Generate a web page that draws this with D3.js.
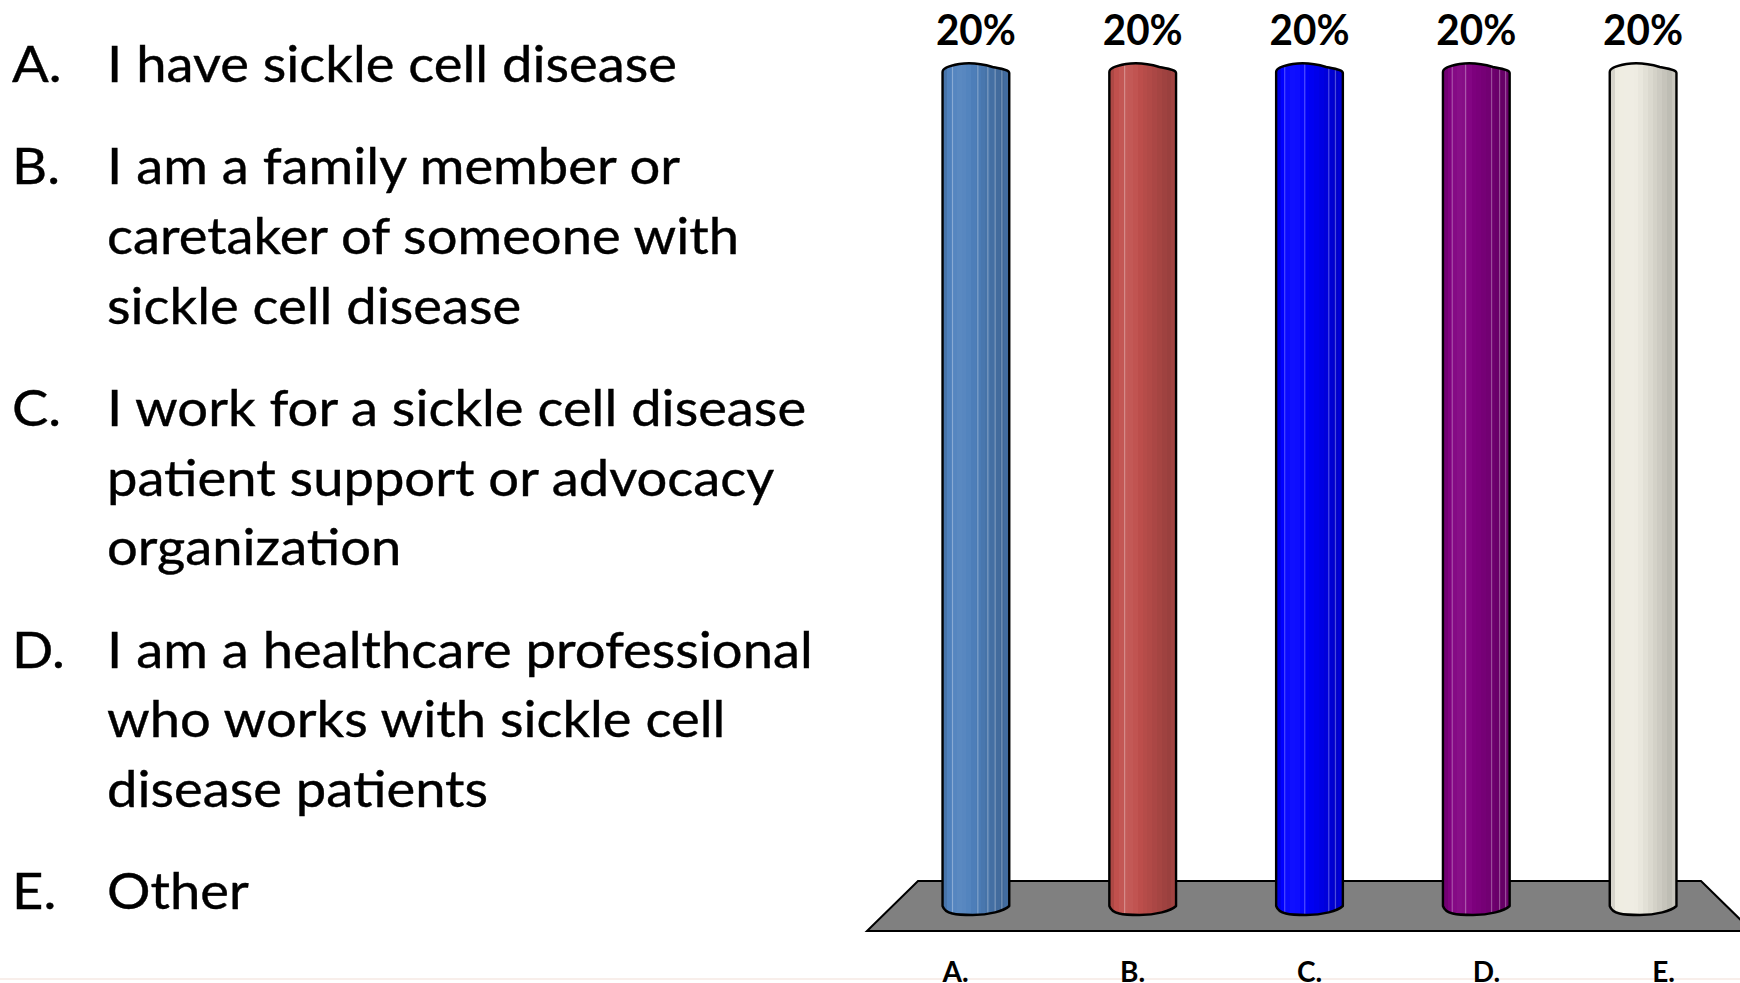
<!DOCTYPE html>
<html>
<head>
<meta charset="utf-8">
<script src="https://cdn.jsdelivr.net/npm/d3@7"></script>
<style>
  html, body { margin: 0; padding: 0; background: #ffffff; overflow: hidden; }
  svg { display: block; }
</style>
</head>
<body>
<svg id="chart" width="1740" height="983"></svg>
<script>
// Poll answers and results
const categories = ["A.", "B.", "C.", "D.", "E."];
const answerLines = [
  ["I have sickle cell disease"],
  ["I am a family member or", "caretaker of someone with", "sickle cell disease"],
  ["I work for a sickle cell disease", "patient support or advocacy", "organization"],
  ["I am a healthcare professional", "who works with sickle cell", "disease patients"],
  ["Other"]
];
const percentages = [20, 20, 20, 20, 20];
const barColors = ["#4F81BD", "#C0504D", "#0000FF", "#800080", "#EEECE1"];

// Thin light seams on the faceted columns (fraction of column width)
const seams = [
  [0.14, 0.52, 0.67, 0.78, 0.88],
  [0.22],
  [0.12, 0.42, 0.78, 0.88],
  [0.13, 0.33, 0.72, 0.84, 0.93],
  []
];

const svg = d3.select("#chart");
const W = 1740, H = 983;
const FONT = "Lato, 'Open Sans', 'DejaVu Sans', sans-serif";

// faint slide edge near the bottom
svg.append("rect").attr("x", 0).attr("y", 978).attr("width", W).attr("height", 2)
  .attr("fill", "#f8eeea");

// ---------- answer list on the left ----------
const listG = svg.append("g");
const lineStep = 69.7, paraGap = 32.6;
let baseline = 82;
const probe = listG.append("text").attr("font-family", FONT).attr("font-size", 51)
  .text(answerLines[0][0]);
const squeeze = 570 / probe.node().getComputedTextLength();
probe.remove();

answerLines.forEach((lines, i) => {
  const letter = listG.append("text")
    .attr("x", 12).attr("y", baseline)
    .attr("font-family", FONT).attr("font-size", 51).attr("fill", "#000")
    .text(categories[i]);
  const lw = letter.node().getComputedTextLength();
  letter.attr("textLength", lw * squeeze).attr("lengthAdjust", "spacingAndGlyphs");
  lines.forEach((ln, j) => {
    const t = listG.append("text")
      .attr("x", 107).attr("y", baseline + j * lineStep)
      .attr("font-family", FONT).attr("font-size", 51).attr("fill", "#000")
      .attr("stroke", "#000").attr("stroke-width", 0.4)
      .text(ln);
    const w = t.node().getComputedTextLength();
    t.attr("textLength", w * squeeze).attr("lengthAdjust", "spacingAndGlyphs");
  });
  letter.attr("stroke", "#000").attr("stroke-width", 0.4);
  baseline += lines.length * lineStep + paraGap;
});

// ---------- 3D column chart ----------
const floorBackY = 881, floorFrontY = 931;
const floorBack = [918, 1701], floorFront = [867, 1752];
const midRange = [(floorBack[0] + floorFront[0]) / 2, (floorBack[1] + floorFront[1]) / 2];

const xBars = d3.scaleBand().domain(categories).range(midRange).paddingInner(0.6).paddingOuter(0.3);
const xLabels = d3.scaleBand().domain(categories).range(floorFront);
const y = d3.scaleLinear().domain([0, d3.max(percentages)]).range([906, 68]);

// floor
svg.append("path")
  .attr("d", `M${floorBack[0]},${floorBackY} L${floorBack[1]},${floorBackY} L${floorFront[1]},${floorFrontY} L${floorFront[0]},${floorFrontY} Z`)
  .attr("fill", "#808080").attr("stroke", "#000").attr("stroke-width", 2)
  .attr("stroke-linejoin", "miter");

// facet shading for each column
const defs = svg.append("defs");
const profile = [0.10, 0.0, -0.04, -0.06, -0.05, -0.02, 0.02, 0.05, 0.08, 0.11, 0.14, 0.17, 0.20, 0.16];
barColors.forEach((c, i) => {
  const g = defs.append("linearGradient").attr("id", "col" + i)
    .attr("x1", "0%").attr("x2", "100%").attr("y1", "0%").attr("y2", "0%");
  const n = profile.length;
  profile.forEach((p, k) => {
    const col = p >= 0 ? d3.interpolateRgb(c, "#000")(p) : d3.interpolateRgb(c, "#fff")(-p);
    g.append("stop").attr("offset", (k / n * 100) + "%").attr("stop-color", col);
    g.append("stop").attr("offset", ((k + 1) / n * 100) + "%").attr("stop-color", col);
  });
});

function columnPath(x0, x1, yt, yb) {
  const w = x1 - x0;
  return `M${x0},${yb} L${x0},${yt + 4}` +
    ` C${x0},${yt + 1} ${x0 + w * 0.08},${yt - 2} ${x0 + w * 0.25},${yt - 4}` +
    ` C${x0 + w * 0.45},${yt - 6} ${x0 + w * 0.6},${yt - 4} ${x0 + w * 0.75},${yt - 1}` +
    ` C${x0 + w * 0.9},${yt + 1} ${x1},${yt + 2} ${x1},${yt + 5}` +
    ` L${x1},${yb}` +
    ` C${x1 - w * 0.08},${yb + 5} ${x1 - w * 0.3},${yb + 9} ${x0 + w * 0.45},${yb + 9}` +
    ` C${x0 + w * 0.2},${yb + 9} ${x0 + w * 0.04},${yb + 8} ${x0},${yb} Z`;
}

const bars = svg.append("g").selectAll("g").data(categories).join("g");
bars.each(function (cat, i) {
  const g = d3.select(this);
  const x0 = xBars(cat), x1 = x0 + xBars.bandwidth();
  const yt = y(percentages[i]), yb = y(0);
  const clipId = "clip" + i;
  defs.append("clipPath").attr("id", clipId).append("path").attr("d", columnPath(x0, x1, yt, yb));
  g.append("path").attr("d", columnPath(x0, x1, yt, yb)).attr("fill", `url(#col${i})`);
  const sg = g.append("g").attr("clip-path", `url(#${clipId})`);
  seams[i].forEach(f => {
    sg.append("rect").attr("x", x0 + f * (x1 - x0)).attr("y", yt - 10)
      .attr("width", 1.2).attr("height", yb - yt + 25)
      .attr("fill", "#ffffff").attr("opacity", 0.3);
  });
  g.append("path").attr("d", columnPath(x0, x1, yt, yb))
    .attr("fill", "none").attr("stroke", "#000").attr("stroke-width", 2.4)
    .attr("stroke-linejoin", "round");
});

// value labels above the columns
svg.append("g").selectAll("text").data(categories).join("text")
  .attr("x", d => xBars(d) + xBars.bandwidth() / 2)
  .attr("y", 45)
  .attr("text-anchor", "middle")
  .attr("font-family", FONT).attr("font-weight", 700).attr("font-size", 42)
  .attr("textLength", 80).attr("lengthAdjust", "spacingAndGlyphs")
  .attr("fill", "#000")
  .text((d, i) => percentages[i] + "%");

// category labels along the front edge of the floor
svg.append("g").selectAll("text").data(categories).join("text")
  .attr("x", d => xLabels(d) + xLabels.bandwidth() / 2)
  .attr("y", 982)
  .attr("text-anchor", "middle")
  .attr("font-family", FONT).attr("font-weight", 700).attr("font-size", 28)
  .attr("fill", "#000")
  .text(d => d);
</script>
</body>
</html>
